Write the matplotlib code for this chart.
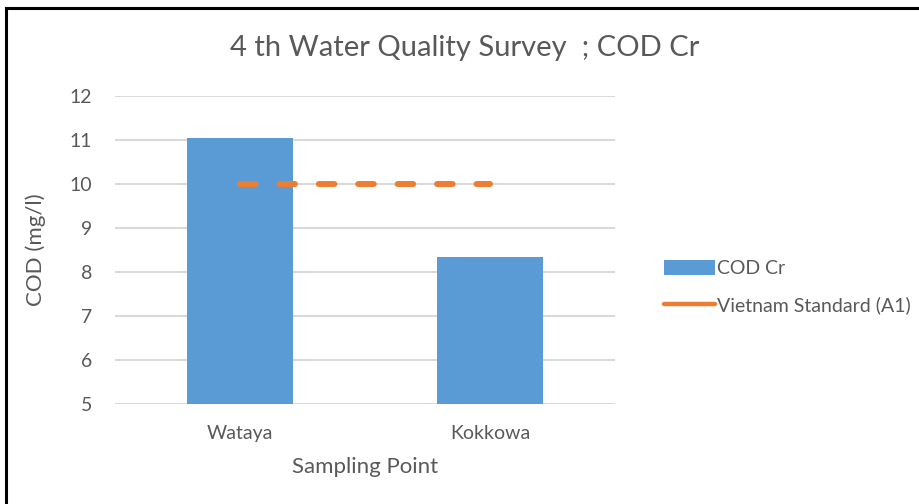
import matplotlib.pyplot as plt
from matplotlib.lines import Line2D

# data
sites = ['Wataya', 'Kokkowa']
cod_cr = [11.05, 8.35]
standard = [10, 10]

plt.rcParams['font.family'] = ['Lato', 'DejaVu Sans']
txt = '#595959'

fig = plt.figure(figsize=(9.19, 5.04), dpi=100)
ax = fig.add_axes([0.1251, 0.1984, 0.544, 0.611])

x = list(range(len(sites)))
bars = ax.bar(x, cod_cr, width=0.424, color='#5b9bd5', label='COD Cr', zorder=3)
line, = ax.plot(x, standard, color='#ed7d31', lw=4.3, dashes=(2.6, 4.0),
                dash_capstyle='round', label='Vietnam Standard (A1)', zorder=4)

ax.set_xlim(-0.5, 1.5)
ax.set_ylim(5, 12)
ax.set_yticks(range(5, 13))
ax.set_xticks(x)
ax.set_xticklabels(sites)
ax.grid(axis='y', color='#d9d9d9', lw=1.5, zorder=0)
for s in ax.spines.values():
    s.set_visible(False)
ax.tick_params(length=0, labelsize=14, colors=txt)
ax.tick_params(axis='y', pad=16.5)
ax.tick_params(axis='x', pad=15)

ax.set_ylabel('COD (mg/l)', fontsize=16, color=txt, labelpad=17)
ax.set_xlabel('Sampling Point', fontsize=16, color=txt, labelpad=11)
fig.text(0.506, 0.905, '4 th Water Quality Survey  ; COD Cr',
         ha='center', va='center', fontsize=21, color=txt)

std_handle = Line2D([], [], color='#ed7d31', lw=3.2, solid_capstyle='round')
leg = ax.legend([bars, std_handle], ['COD Cr', 'Vietnam Standard (A1)'],
                loc='center left', bbox_to_anchor=(0.704, 0.4306),
                bbox_transform=fig.transFigure, frameon=False,
                fontsize=14, handlelength=2.6, handleheight=0.85,
                handletextpad=0.1, labelspacing=1.0)
for t in leg.get_texts():
    t.set_color(txt)

# black frame on top and left edge
fig.add_artist(Line2D([0.0065, 0.0065], [0, 0.984], color='black', lw=2.2,
                      transform=fig.transFigure))
fig.add_artist(Line2D([0.0065, 1], [0.984, 0.984], color='black', lw=2.2,
                      transform=fig.transFigure))

fig.savefig('out.png', dpi=100)
